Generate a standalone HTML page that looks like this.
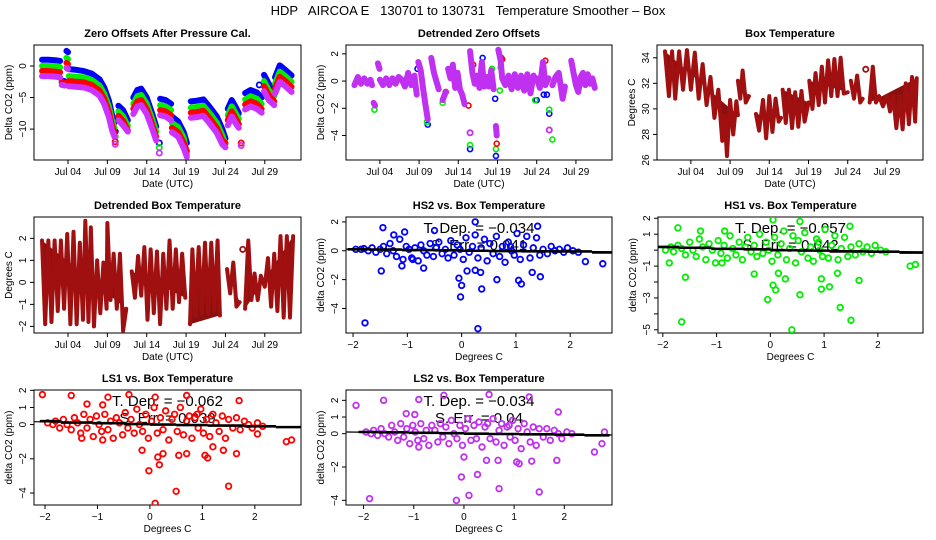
<!DOCTYPE html>
<html><head><meta charset="utf-8"><style>
html,body{margin:0;padding:0;background:#fff;}
svg{display:block;font-family:"Liberation Sans",Arial,sans-serif;}
</style></head><body>
<svg id="c" width="936" height="540" viewBox="0 0 936 540">
<rect width="936" height="540" fill="#fff"/>
<text x="468" y="15" text-anchor="middle" font-size="13" style="white-space:pre">HDP   AIRCOA E   130701 to 130731   Temperature Smoother – Box</text>
</svg>
<script>
// ---------- time axis ticks ----------
const dateTicks = [3, 8, 13, 18, 23, 28];
const dateTickLabels = ["Jul 04", "Jul 09", "Jul 14", "Jul 19", "Jul 24", "Jul 29"];

// ---------- Zero offsets after pressure cal ----------
const zeroBlue = [[-0.3,1.0],[0.5,1.0],[1.5,0.9],[2.0,0.8],null,[2.2,-2.3],[2.6,-2.4],null,[2.8,2.4],[3.0,2.2],null,
[3.1,-0.5],[4,-0.6],[5,-0.8],[6,-1.2],[7,-2.1],[7.6,-3.4],[8.2,-5.5],[8.6,-7.8],[8.9,-9],null,[9.0,-10.4],null,
[9.4,-6.3],[10,-7],[10.6,-8.6],null,[11.3,-5],[11.8,-3.8],[12.3,-3.6],[13,-5],[13.6,-7.2],[14.2,-9.6],null,[14.6,-12.2],null,
[14.7,-5.2],[15.4,-5.4],[16.1,-6],null,[16.2,-8],[17,-8.8],[17.7,-10.5],[18.1,-12.2],null,
[18.6,-5.6],[19.4,-5.5],[20.2,-5.3],[21,-6.5],[21.9,-8],[22.6,-10],[23.0,-11.5],null,
[23.3,-6.8],[23.8,-5.4],[24.3,-6.5],[24.7,-7.5],null,[25.5,-4.3],[26.2,-3.8],[27,-4.2],[27.6,-5],null,[27.3,-3.0],null,
[27.9,-1.4],[28.5,-2.8],[29.2,-4],null,[29.3,-1.8],[29.9,0.1],[30.6,-0.6],[31.4,-1.5]];
const zeroGreen = [[-0.3,0.0],[0.5,0.0],[1.5,-0.1],[2.0,-0.2],null,[2.2,-2.6],[2.6,-2.7],null,[2.8,1.3],[3.0,1.1],null,
[3.1,-1.6],[4,-1.7],[5,-1.8],[6,-2.2],[7,-3.1],[7.6,-4.4],[8.2,-6.5],[8.6,-8.7],[8.9,-9.8],null,[9.0,-11.2],null,
[9.4,-7.2],[10,-8],[10.6,-9.5],null,[11.3,-6],[11.8,-4.8],[12.3,-4.6],[13,-6],[13.6,-8.1],[14.2,-10.4],null,[14.6,-12.9],null,
[14.7,-6.2],[15.4,-6.4],[16.1,-7],null,[16.2,-9],[17,-9.7],[17.7,-11.4],[18.1,-14],null,
[18.6,-6.6],[19.4,-6.5],[20.2,-6.3],[21,-7.5],[21.9,-9],[22.6,-11],[23.0,-12.4],null,
[23.3,-7.8],[23.8,-6.4],[24.3,-7.5],[24.7,-8.4],null,[25.5,-5.3],[26.2,-4.8],[27,-5.2],[27.6,-6],null,
[27.9,-2.4],[28.5,-3.8],[29.2,-4.8],null,[29.3,-2.8],[29.9,-0.9],[30.6,-1.6],[31.4,-2.5]];
const zeroRed = [[-0.3,-0.8],[0.5,-0.8],[1.5,-0.9],[2.0,-1.0],null,[2.2,-2.6],[2.6,-2.7],null,[2.8,0.5],[3.0,0.3],null,
[3.1,-2.4],[4,-2.5],[5,-2.6],[6,-3.0],[7,-3.9],[7.6,-5.2],[8.2,-7.3],[8.6,-9.5],[8.9,-10.6],null,[9.0,-12],null,
[9.4,-7.9],[10,-8.7],[10.6,-10.2],null,[11.3,-6.8],[11.8,-5.6],[12.3,-5.4],[13,-6.8],[13.6,-8.9],[14.2,-11.2],null,
[14.7,-7.0],[15.4,-7.2],[16.1,-7.8],null,[16.2,-9.8],[17,-10.5],[17.7,-12.2],[18.1,-13.5],null,
[18.6,-7.4],[19.4,-7.3],[20.2,-7.1],[21,-8.3],[21.9,-9.8],[22.6,-11.8],[23.0,-12.2],null,
[23.3,-8.6],[23.8,-7.2],[24.3,-8.3],[24.7,-9.2],null,[25.0,-12.2],null,[25.5,-6.1],[26.2,-5.6],[27,-6.0],[27.6,-6.8],null,
[27.9,-3.2],[28.5,-4.6],[29.2,-5.6],null,[29.3,-3.6],[29.9,-1.7],[30.6,-2.4],[31.4,-3.3]];
const zeroMagenta = [[-0.3,-1.6],[0.5,-1.6],[1.5,-1.7],[2.0,-1.8],null,[2.2,-3.0],[2.6,-3.1],null,[2.8,-0.3],[3.0,-0.5],null,
[3.1,-3.2],[4,-3.3],[5,-3.4],[6,-3.8],[7,-4.7],[7.6,-6.0],[8.2,-8.1],[8.6,-10.2],[8.9,-11.2],null,[9.0,-12.4],null,
[9.4,-8.6],[10,-9.4],[10.6,-10.4],null,[11.3,-7.6],[11.8,-6.4],[12.3,-6.2],[13,-7.6],[13.6,-9.6],[14.2,-11.8],null,[14.6,-13.8],null,
[14.7,-7.8],[15.4,-8.0],[16.1,-8.6],null,[16.2,-10.5],[17,-11.2],[17.7,-13],[18.1,-14.4],null,
[18.6,-8.2],[19.4,-8.1],[20.2,-7.9],[21,-9.1],[21.9,-10.6],[22.6,-12.4],[23.0,-12.9],null,
[23.3,-9.4],[23.8,-8.0],[24.3,-9.1],[24.7,-9.8],null,[25.0,-12.6],null,[25.5,-6.9],[26.2,-6.4],[27,-6.8],[27.6,-7.4],null,
[27.9,-4.0],[28.5,-5.4],[29.2,-6.2],null,[29.3,-4.4],[29.9,-2.5],[30.6,-3.2],[31.4,-4.1]];

// ---------- Detrended zero offsets ----------
const detrMagenta = [[-0.25,-0.3],[0.2,0.3],[0.6,-0.2],[1.0,0.2],[1.4,-0.2],[1.8,0.1],[2.0,-0.3],null,[2.2,-1.6],[2.4,-1.8],null,
[2.75,1.3],[2.95,0.9],null,[3.0,0.1],[3.4,-0.3],[3.8,0.2],[4.2,-0.3],[4.6,0.2],[5.0,-0.2],[5.4,0.3],[5.8,0.1],[6.2,-0.4],[6.6,0.6],[7.0,-0.3],[7.4,0.4],[7.7,-1.0],null,
[7.9,1.4],[8.2,0.8],[8.5,-0.5],[8.8,-1.7],[9.1,-2.8],null,[9.55,1.7],[9.9,0.6],[10.2,0.0],[10.5,-0.6],null,[11.0,-1.4],[11.4,-0.8],null,
[11.7,0.9],[12.0,0.2],[12.3,1.2],[12.6,-0.5],[12.9,0.6],[13.2,-0.6],[13.5,-1.0],[13.8,-1.7],null,[14.5,-3.8],null,
[14.5,2.2],[14.8,0.6],[15.1,-0.2],[15.4,0.4],[15.7,-0.5],[16.0,1.4],[16.3,-0.4],[16.6,0.3],[16.9,-0.4],[17.2,0.8],[17.5,-0.6],null,
[17.8,-3.3],[17.9,-4.0],null,[18.1,2.3],[18.4,1.5],[18.6,0.2],[19.0,-0.3],[19.4,0.4],[19.8,-0.6],[20.2,0.5],[20.6,-0.5],[21.0,0.4],[21.4,-0.7],[21.8,0.5],[22.2,-0.9],[22.6,0.4],null,
[23.0,0.2],[23.4,-0.5],[23.8,1.4],[24.1,-0.3],[24.5,0.2],null,[24.6,-3.6],null,[25.0,-0.3],[25.4,0.3],[25.8,0.6],[26.1,-0.5],[26.3,-1.3],[26.6,-0.4],null,
[27.4,1.5],[27.7,0.6],[28.0,-0.3],[28.3,-0.8],[28.6,0.3],[28.9,0.6],[29.2,-0.3],[29.5,0.5],[29.8,-0.2],[30.1,0.2],[30.4,-0.5]];
const detrBlueOut = [[9.1,-3.2],[14.5,-5.0],[17.8,-5.5],[17.7,-1.3],[24.6,-2.4],[23.9,-1.0],[24.3,-1.0],[23.0,-1.4],[16.1,1.7],[7.8,0.9]];
const detrGreenOut = [[2.3,-2.1],[9.0,-3.0],[14.5,-4.7],[17.8,-5.0],[18.3,-0.7],[22.8,-1.4],[24.6,-2.1],[25.0,-4.3],[18.4,1.0],[11.0,-1.6],[17.3,0.9]];
const detrRedOut = [[17.9,-4.6],[18.5,1.7],[14.9,1.2],[24.1,1.5],[14.3,-1.8],[11.4,-0.8],[18.6,1.6]];

// ---------- Box temperature ----------
const boxTemp = [[-0.3,34.5],[0.2,31],[0.6,34.5],[1.0,30.8],[1.5,34.5],[2.0,31.5],[2.5,34.6],[3.0,31.5],[3.5,34.4],[4.0,30.8],[4.5,33.5],[5.0,30.3],[5.5,32.5],[6.0,29.3],[6.5,31.5],[7.0,27.5],[7.3,29.5],[7.6,26.3],[8.0,30.7],[8.4,28],[8.8,30.6],[9.0,29.5],null,
[9.0,32.2],[9.3,30.8],[9.6,33],[10.0,30.5],[10.4,31],null,
[11.3,29.6],[11.7,28.3],[12.2,30.7],[12.6,27.7],[13.0,31.0],[13.4,28.2],[13.8,30.8],[14.2,29],[14.5,29.3],null,
[14.7,31.5],[15.1,28.9],[15.5,31.5],[15.9,28.5],[16.3,31.3],[16.7,28.6],[17.1,31.4],[17.5,29.0],[18.0,30.5],null,
[18.1,32.2],[18.5,30.0],[18.9,32.8],[19.3,30.3],[19.7,33.3],[20.1,30.5],[20.5,33.8],[20.9,31],[21.3,33.9],[21.7,31],[22.1,34.0],[22.5,31.2],[23.0,31.3],null,
[23.4,32.2],[23.8,30.8],[24.2,32.6],[24.6,30.5],[24.9,30.8],null,[25.3,33.1],null,
[25.8,30.5],[26.2,33.3],[26.6,30.5],[27,31],[27.5,30.2],[28,31],[28.4,29.8],[28.8,31],[29.2,28.5],[29.6,31],[30.0,28.4],[30.4,32],[30.8,28.8],[31.2,32.5],[31.6,29],[31.8,32.4]];

// ---------- Detrended box temperature ----------
const boxDetr = [[-0.3,1.9],[0.1,-1.9],[0.5,1.9],[0.9,-1.8],[1.3,1.9],[1.7,-1.3],[2.1,1.9],[2.5,-1.2],[2.9,2.2],[3.3,-1.9],[3.7,2.3],[4.1,-1.9],[4.5,1.8],[4.9,-1.7],[5.2,2.8],[5.6,-1.8],[5.9,2.5],[6.3,-2.0],[6.7,1.0],[7.1,-1.4],[7.5,0.9],[7.9,-1.2],[8.0,2.7],[8.4,-0.8],[8.8,1.3],[9.2,-1.2],[9.6,1.3],[10.0,-2.2],[10.4,-1.2],null,
[11.1,0.5],[11.5,-0.7],[11.9,1.2],[12.3,-0.6],[12.7,1.6],[13.1,-1.7],[13.5,1.5],[13.9,-1.4],[14.3,1.4],[14.7,-1.9],[15.1,1.3],[15.5,-1.2],[15.9,1.9],[16.3,-1.2],[16.7,1.5],[17.1,-0.9],[17.5,1.3],[17.9,-0.7],null,
[18.5,-1.9],[18.8,1.5],[19.2,-1.5],[19.6,1.6],[20.0,-1.4],[20.4,1.8],[20.8,-1.4],[21.2,1.8],[21.6,-1.3],[22.0,1.9],[22.3,-1.5],null,
[23.2,0.6],[23.6,-0.5],[24.0,0.9],[24.4,-1.1],[24.8,-0.9],null,[25.2,1.5],null,
[25.5,-1.2],[25.9,1.9],[26.3,-0.8],[26.7,0.4],[27.1,-0.8],[27.5,0.3],[28.0,-0.2],[28.4,1.1],[28.8,-1.1],[29.2,1.3],[29.6,-1.3],[30.0,2.1],[30.4,-1.6],[30.8,2.1],[31.2,-1.6],[31.6,2.1]];

// ---------- Scatter panels ----------
const cloudX = [-1.95,-1.85,-1.8,-1.72,-1.65,-1.58,-1.5,-1.44,-1.38,-1.32,-1.26,-1.2,-1.14,-1.08,-1.02,-0.97,-0.92,-0.86,-0.8,-0.75,-0.7,-0.64,-0.58,-0.52,-0.47,-0.42,-0.36,-0.3,-0.25,-0.2,-0.14,-0.08,-0.03,0.03,0.08,0.14,0.2,0.25,0.3,0.36,0.42,0.47,0.52,0.58,0.64,0.7,0.75,0.8,0.86,0.92,0.97,1.02,1.08,1.14,1.2,1.26,1.32,1.38,1.44,1.5,1.58,1.65,1.72,1.8,1.88,1.95,2.05,2.15,-0.9,0.9];
const hs2CloudY = [0.1,0.1,0.15,0.0,0.2,-0.1,0.1,0.3,-0.2,0.5,0.0,-0.4,0.8,-0.6,0.3,0.1,-0.5,0.2,-0.7,0.4,0.0,-0.3,0.5,-0.4,0.2,0.6,-0.2,0.1,-0.5,0.7,-0.3,0.4,0.1,-0.6,0.9,-0.1,0.3,1.1,-0.5,0.2,0.8,-0.7,0.5,-0.2,1.0,-0.4,0.3,-0.8,0.6,0.0,-0.3,1.2,-0.6,0.4,1.0,-0.5,0.2,0.9,-0.3,0.1,-0.2,0.3,0.0,0.1,-0.1,0.2,0.0,-0.1,-0.6,0.3];
const hs1CloudY = [0.0,0.2,-0.1,0.3,0.1,-0.3,0.5,0.0,-0.4,0.7,0.2,-0.6,0.4,0.0,-0.8,0.6,-0.2,0.3,-0.5,0.9,0.1,-0.3,0.5,-0.6,0.2,0.8,-0.1,0.3,-0.4,1.0,-0.2,0.5,0.0,-0.7,0.8,-0.3,0.4,1.2,-0.6,0.1,0.9,-0.8,0.6,-0.1,1.1,-0.5,0.2,-0.7,0.7,0.0,-0.4,1.3,-0.5,0.3,0.9,-0.6,0.1,0.8,-0.4,0.2,-0.3,0.4,-0.1,0.2,-0.2,0.3,0.0,-0.1,-0.8,0.5];
const ls1CloudY = [0.1,0.0,0.2,-0.2,0.3,0.0,-0.3,0.4,0.1,-0.5,0.6,-0.2,0.3,-0.7,0.5,0.0,-0.4,0.6,-0.3,0.2,-0.8,0.4,0.1,-0.6,0.7,-0.2,0.3,-0.5,0.9,0.0,-0.4,0.6,-0.8,0.2,1.0,-0.5,0.4,-0.3,0.8,-0.9,0.3,0.6,-0.4,1.0,-0.6,0.2,0.5,-0.8,0.4,-0.2,0.9,-0.5,0.3,-0.7,0.6,0.1,-0.4,0.5,-0.8,0.3,-0.2,0.4,-0.3,0.2,0.0,-0.2,0.1,-0.1,-0.9,0.6];
const ls2CloudY = [0.1,0.0,0.2,-0.1,0.3,0.0,-0.2,0.5,0.1,-0.4,0.6,-0.2,0.3,-0.6,0.5,0.1,-0.4,0.6,-0.3,0.2,-0.7,0.5,0.2,-0.5,0.6,-0.2,0.4,-0.6,0.8,0.0,-0.3,0.5,-0.7,0.3,0.9,-0.4,0.5,-0.3,0.7,-0.8,0.4,0.6,-0.3,0.9,-0.5,0.2,0.6,-0.7,0.4,-0.2,0.8,-0.4,0.3,-0.9,0.6,0.1,-0.5,0.4,-0.7,0.3,-0.2,0.3,-0.4,0.2,0.0,-0.3,0.1,0.0,-0.8,0.5];
const hs2OutX = [-1.78,-1.48,-1.45,-1.1,-0.7,-0.05,0.0,-0.02,0.1,0.25,0.3,0.35,0.37,0.65,1.05,1.1,1.3,1.45,2.28,2.6,0.25,1.4,-0.5,-1.05,-1.25];
const hs2OutY = [-5,-1.4,1.6,-1.05,-1.2,-1.9,-2.4,-3.2,-1.4,-1.35,-5.4,-1.5,-2.65,-2,-2.05,-2.3,-1.5,-1.8,-0.75,-0.9,2,1.7,1.4,1.3,1.1];
const hs1OutX = [-1.72,-1.88,-1.65,-1.58,-0.3,-0.05,0.05,0.1,0.15,0.28,0.4,0.55,0.95,0.95,1.1,1.25,1.3,1.5,1.65,0.05,0.55,1.48,2.6,2.7,-1.3,-0.85];
const hs1OutY = [1.4,-0.8,-4.5,-1.7,-1.5,-3.1,-2.2,-2.5,-1.45,-1.8,-5,-2.8,-1.8,-2.45,-2.3,-1.45,-3.6,-4.4,-1.9,1.9,1.8,1.5,-1,-0.9,1.2,1.2];
const ls1OutX = [-2.05,-1.5,-1.3,-0.8,-0.4,-0.15,-0.02,0.1,0.15,0.18,0.25,0.5,0.55,0.7,1.05,1.1,1.2,1.4,1.5,1.65,0.1,0.7,1.7,2.6,2.7,2.05,-1.2,-0.9];
const ls1OutY = [1.75,1.7,-0.8,1.6,1.75,-1.5,-2.7,-4.6,-1.9,-2.35,-1.7,-3.9,-1.8,-1.7,-1.8,-1.95,-1.3,-1.5,-3.6,-1.7,1.6,1.7,1.4,-1,-0.9,-0.55,1.2,1.15];
const ls2OutX = [-2.15,-1.6,-1.88,-0.9,-0.98,-0.4,-0.15,-0.05,0.0,0.1,0.27,0.45,0.7,0.68,1.05,1.1,1.35,1.5,1.85,0.5,1.3,2.6,2.75,2.8,1.88,-1.15];
const ls2OutY = [1.7,2,-3.9,2.05,1.15,2.3,-4,-2.6,-1.4,-3.7,-2.45,-1.6,-3.3,-1.6,-1.7,-1.8,-1.65,-3.5,-1.6,2.35,2.2,-1.1,-0.6,0.1,1.3,1.2];
const binEdges = [-2.1,-1.7,-1.1,-0.5,0.0,0.5,1.1,1.8,2.4,2.9];
const hs2BinY = [0.1,0.08,0.05,0.03,0.0,-0.02,-0.04,-0.05,-0.12];
const hs1BinY = [0.2,0.15,0.08,0.05,0.0,-0.03,-0.08,-0.1,-0.15];
const ls1BinY = [0.2,0.12,0.08,0.03,0.0,-0.03,-0.06,-0.1,-0.15];
const ls2BinY = [0.1,0.08,0.05,0.03,0.0,-0.02,-0.04,-0.06,-0.1];

// ---------- rendering ----------
const NS = "http://www.w3.org/2000/svg";
const svg = document.getElementById("c");
function mk(tag, attrs, parent) {
  const e = document.createElementNS(NS, tag);
  for (const k in attrs) e.setAttribute(k, attrs[k]);
  (parent || svg).appendChild(e);
  return e;
}
function txt(s, attrs, parent) { const e = mk("text", attrs, parent); e.textContent = s; return e; }

function makePanel(cfg) {
  const g = mk("g", {});
  
  
  const sx = v => cfg.l + (v - cfg.x0) / (cfg.x1 - cfg.x0) * (cfg.r - cfg.l);
  const sy = v => cfg.b - (v - cfg.y0) / (cfg.y1 - cfg.y0) * (cfg.b - cfg.t);
  const t = txt(cfg.title, {x: (cfg.l + cfg.r) / 2, y: cfg.t - 8, "text-anchor": "middle", "font-size": 11, "font-weight": "bold"}, g);
  
  
  const box = mk("rect", {x: cfg.l, y: cfg.t, width: cfg.r - cfg.l, height: cfg.b - cfg.t, fill: "none", stroke: "#000", "stroke-width": 1}, g);
  
  
  cfg.xt.forEach((v, i) => {
    const x = sx(v);
    mk("line", {x1: x, x2: x, y1: cfg.b, y2: cfg.b + 4, stroke: "#000"}, g);
    const l = txt(cfg.xl[i], {x: x, y: cfg.b + 15, "text-anchor": "middle", "font-size": 10}, g);
    
    
  });
  cfg.yt.forEach((v, i) => {
    const y = sy(v);
    mk("line", {x1: cfg.l - 4, x2: cfg.l, y1: y, y2: y, stroke: "#000"}, g);
    if (cfg.yl[i] !== "") {
      const l = txt(cfg.yl[i], {x: 0, y: 0, "text-anchor": "middle", "font-size": 10, transform: `translate(${cfg.l - 8},${y}) rotate(-90)`}, g);
      
      
    }
  });
  const xa = txt(cfg.xlab, {x: (cfg.l + cfg.r) / 2, y: cfg.b + 27, "text-anchor": "middle", "font-size": 10}, g);
  
  
  const ya = txt(cfg.ylab, {x: 0, y: 0, "text-anchor": "middle", "font-size": 10, transform: `translate(${cfg.l - 22},${(cfg.t + cfg.b) / 2}) rotate(-90)`}, g);
  
  
  const clip = "cl" + cfg.name;
  const cp = mk("clipPath", {id: clip}, g);
  mk("rect", {x: cfg.l, y: cfg.t, width: cfg.r - cfg.l, height: cfg.b - cfg.t}, cp);
  const plot = mk("g", {"clip-path": `url(#${clip})`}, g);
  return {g: plot, sx, sy, cfg};
}

function drawSeries(p, data, color, w, name, fill) {
  let run = [];
  const flush = () => {
    if (!run.length) return;
    if (run.length === 1) {
      const c = mk("circle", {cx: p.sx(run[0][0]), cy: p.sy(run[0][1]), r: 2.6, fill: "none", stroke: color, "stroke-width": 1.8}, p.g);
      
      
    } else {
      const pl = mk("polyline", {points: run.map(d => p.sx(d[0]) + "," + p.sy(d[1])).join(" "), fill: fill || "none", stroke: color, "stroke-width": w, "stroke-linejoin": "round", "stroke-linecap": "round"}, p.g);
      
      
    }
    run = [];
  };
  data.forEach(d => { if (d === null) flush(); else run.push(d); });
  flush();
}
function drawPoints(p, xs, ys, color, name) {
  const n = Math.min(xs.length, ys.length);
  for (let i = 0; i < n; i++) {
    const c = mk("circle", {cx: p.sx(xs[i]), cy: p.sy(ys[i]), r: 2.8, fill: "none", stroke: color, "stroke-width": 1.8}, p.g);
    
    
  }
}
function drawPairs(p, pts, color, name) {
  pts.forEach(d => {
    const c = mk("circle", {cx: p.sx(d[0]), cy: p.sy(d[1]), r: 2.5, fill: "none", stroke: color, "stroke-width": 1.6}, p.g);
    
    
  });
}
function drawFit(p, dep, err) {
  const c = p.cfg;
  const a = txt("T. Dep. = \u2212" + dep, {x: (c.l + c.r) / 2, y: c.t + 16, "text-anchor": "middle", "font-size": 15}, p.g);
  
  
  const b = txt("S. Err. = " + err, {x: (c.l + c.r) / 2, y: c.t + 33, "text-anchor": "middle", "font-size": 15}, p.g);
  
  
}
function drawFitLines(p, slope, intercept, binY) {
  const c = p.cfg;
  const ln = mk("line", {x1: c.l, x2: c.r, y1: p.sy(intercept + slope * c.x0), y2: p.sy(intercept + slope * c.x1), stroke: "#000", "stroke-width": 1.2}, p.g);
  
  
  binY.forEach((v, i) => {
    const s = mk("line", {x1: p.sx(binEdges[i]), x2: p.sx(binEdges[i + 1]), y1: p.sy(v), y2: p.sy(v), stroke: "#000", "stroke-width": 2.6}, p.g);
    
    
  });
}

const T0 = -1.32, T1 = 32.6;
const p1 = makePanel({name: "zero-offsets-panel", title: "Zero Offsets After Pressure Cal.", l: 34, r: 301, t: 45, b: 160, x0: T0, x1: T1, y0: -14.9, y1: 3.33,
  xt: dateTicks, xl: dateTickLabels, yt: [-10, -5, 0], yl: ["\u221210", "\u22125", "0"], xlab: "Date (UTC)", ylab: "Delta CO2 (ppm)"});
drawSeries(p1, zeroBlue, "#0000ff", 6, "hs2-series");
drawSeries(p1, zeroGreen, "#00ee00", 6, "hs1-series");
drawSeries(p1, zeroRed, "#ff0000", 6, "ls1-series");
drawSeries(p1, zeroMagenta, "#cc33ff", 6, "ls2-series");

const p2 = makePanel({name: "detrended-zero-offsets-panel", title: "Detrended Zero Offsets", l: 346, r: 612, t: 45, b: 160, x0: T0, x1: T1, y0: -5.8, y1: 2.65,
  xt: dateTicks, xl: dateTickLabels, yt: [-4, -2, 0, 2], yl: ["\u22124", "\u22122", "0", "2"], xlab: "Date (UTC)", ylab: "Delta CO2 (ppm)"});
drawPairs(p2, detrBlueOut, "#0000ff", "hs2-point");
drawPairs(p2, detrGreenOut, "#00ee00", "hs1-point");
drawPairs(p2, detrRedOut, "#ff0000", "ls1-point");
drawSeries(p2, detrMagenta, "#c030f0", 6, "ls2-series");

const p3 = makePanel({name: "box-temperature-panel", title: "Box Temperature", l: 657, r: 923, t: 45, b: 160, x0: T0, x1: T1, y0: 26, y1: 35.0,
  xt: dateTicks, xl: dateTickLabels, yt: [26, 28, 30, 32, 34], yl: ["26", "28", "30", "32", "34"], xlab: "Date (UTC)", ylab: "Degrees C"});
drawSeries(p3, boxTemp, "#a01010", 4, "box-temp", "#8a1010");

const p4 = makePanel({name: "detrended-box-temperature-panel", title: "Detrended Box Temperature", l: 34, r: 301, t: 217, b: 333, x0: T0, x1: T1, y0: -2.3, y1: 2.97,
  xt: dateTicks, xl: dateTickLabels, yt: [-2, -1, 0, 1, 2], yl: ["\u22122", "\u22121", "0", "1", "2"], xlab: "Date (UTC)", ylab: "Degrees C"});
drawSeries(p4, boxDetr, "#a01010", 4, "box-temp-detrended", "#8a1010");

const sxt = [-2, -1, 0, 1, 2], sxl = ["\u22122", "\u22121", "0", "1", "2"];
const p5 = makePanel({name: "hs2-vs-temp-panel", title: "HS2 vs. Box Temperature", l: 346, r: 612, t: 217, b: 333, x0: -2.13, x1: 2.77, y0: -5.7, y1: 2.34,
  xt: sxt, xl: sxl, yt: [-4, -2, 0, 2], yl: ["\u22124", "\u22122", "0", "2"], xlab: "Degrees C", ylab: "delta CO2 (ppm)"});
drawFit(p5, "0.034", "0.041");
drawPoints(p5, cloudX, hs2CloudY, "#0000ff", "hs2-point");
drawPoints(p5, hs2OutX, hs2OutY, "#0000ff", "hs2-point");
drawFitLines(p5, -0.034, 0.03, hs2BinY);

const p6 = makePanel({name: "hs1-vs-temp-panel", title: "HS1 vs. Box Temperature", l: 658, r: 923, t: 217, b: 333, x0: -2.09, x1: 2.84, y0: -5.2, y1: 2.08,
  xt: sxt, xl: sxl, yt: [-5, -4, -3, -2, -1, 0, 1, 2], yl: ["\u22125", "", "\u22123", "", "\u22121", "", "1", "2"], xlab: "Degrees C", ylab: "delta CO2 (ppm)"});
drawFit(p6, "0.057", "0.042");
drawPoints(p6, cloudX, hs1CloudY, "#00ee00", "hs1-point");
drawPoints(p6, hs1OutX, hs1OutY, "#00ee00", "hs1-point");
drawFitLines(p6, -0.057, 0.05, hs1BinY);

const p7 = makePanel({name: "ls1-vs-temp-panel", title: "LS1 vs. Box Temperature", l: 34, r: 301, t: 390, b: 505, x0: -2.21, x1: 2.88, y0: -4.7, y1: 2.02,
  xt: sxt, xl: sxl, yt: [-4, -2, 0, 1, 2], yl: ["\u22124", "\u22122", "0", "1", "2"], xlab: "Degrees C", ylab: "delta CO2 (ppm)"});
drawFit(p7, "0.062", "0.039");
drawPoints(p7, cloudX, ls1CloudY, "#ff0000", "ls1-point");
drawPoints(p7, ls1OutX, ls1OutY, "#ff0000", "ls1-point");
drawFitLines(p7, -0.062, 0.03, ls1BinY);

const p8 = makePanel({name: "ls2-vs-temp-panel", title: "LS2 vs. Box Temperature", l: 346, r: 612, t: 390, b: 505, x0: -2.35, x1: 2.95, y0: -4.28, y1: 2.62,
  xt: sxt, xl: sxl, yt: [-4, -2, 0, 1, 2], yl: ["\u22124", "\u22122", "0", "1", "2"], xlab: "Degrees C", ylab: "delta CO2 (ppm)"});
drawFit(p8, "0.034", "0.04");
drawPoints(p8, cloudX, ls2CloudY, "#c030f0", "ls2-point");
drawPoints(p8, ls2OutX, ls2OutY, "#c030f0", "ls2-point");
drawFitLines(p8, -0.034, 0.02, ls2BinY);
</script>
</body></html>
